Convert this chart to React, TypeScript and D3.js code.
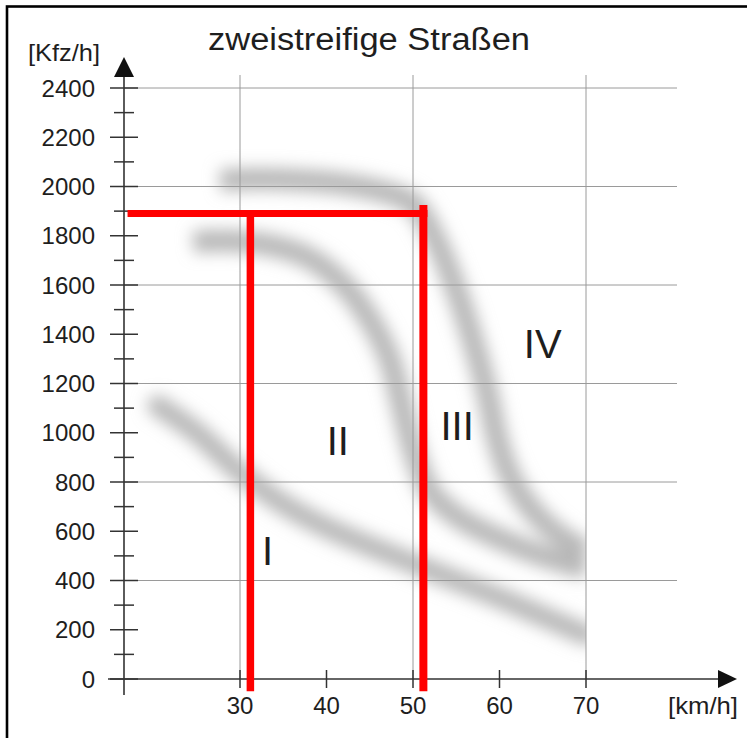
import React from "react";
import * as d3 from "d3";

const TITLE = "zweistreifige Straßen";
const Y_UNIT = "[Kfz/h]";
const X_UNIT = "[km/h]";

const X_TICKS = [30, 40, 50, 60, 70];
const X_GRID = [30, 50, 70];
const Y_TICKS = [0, 200, 400, 600, 800, 1000, 1200, 1400, 1600, 1800, 2000, 2200, 2400];
const Y_MINOR = [100, 300, 500, 700, 900, 1100, 1300, 1500, 1700, 1900, 2100, 2300];
const Y_GRID = [400, 800, 1200, 1600, 2000, 2400];

// boundary bands between quality levels (km/h, Kfz/h)
const BAND_I_II: [number, number][] = [
  [20.5, 1110], [25, 1000], [30, 840], [35, 710], [40, 615], [45, 540],
  [50, 470], [55, 400], [60, 330], [65, 255], [70, 180],
];
const BAND_II_III: [number, number][] = [
  [24.6, 1775], [28, 1780], [33, 1765], [38, 1710], [42, 1600], [45, 1460],
  [47.3, 1300], [48.8, 1100], [50.3, 900], [52, 760], [55.5, 650], [60, 570],
  [65, 500], [70, 450],
];
const BAND_III_IV: [number, number][] = [
  [27.7, 2025], [32, 2030], [37, 2025], [42, 2010], [46.5, 1980], [50, 1930],
  [52.8, 1770], [55.1, 1570], [57, 1365], [58.6, 1160], [59.7, 980], [60.9, 850],
  [62.6, 740], [65, 640], [67.5, 570], [70, 520],
];

const LEVEL_LABELS = ["I", "II", "III", "IV"];
const LEVEL_X = [33.2, 41.3, 55.1, 65];
const LEVEL_Y = [520, 966, 1027, 1360];

// red reading lines
const RED_Q = 1890;
const RED_V1 = 31.2;
const RED_V2 = 51.2;
const RED_START_V = 17;
const RED_BOTTOM_Q = -50;
const RED_V2_TOP_Q = 1925;

export default function App() {
  const W = 747;
  const H = 738;
  const x = d3.scaleLinear().domain([30, 70]).range([240, 586]);
  const y = d3.scaleLinear().domain([0, 2400]).range([679, 88]);
  const axisX = 124;
  const axisY = y(0);

  const line = d3
    .line<[number, number]>()
    .x((d) => x(d[0]))
    .y((d) => y(d[1]))
    .curve(d3.curveCatmullRom.alpha(0.5));

  const font = "'Liberation Sans', Arial, Helvetica, sans-serif";
  const txt = "#1e1e1e";

  return (
    <svg
      width={W}
      height={H}
      style={{ position: "absolute", left: 0, top: 0, background: "#fff" }}
      fontFamily={font}
    >
      <defs>
        <filter id="blur" filterUnits="userSpaceOnUse" x={0} y={0} width={W} height={H}>
          <feGaussianBlur stdDeviation={8} />
        </filter>
        <clipPath id="clipBands">
          <rect x={0} y={0} width={x(70)} height={H} />
        </clipPath>
      </defs>
      <rect x={0} y={0} width={W} height={H} fill="#fff" />

      {/* bands */}
      <g clipPath="url(#clipBands)">
        <g filter="url(#blur)" fill="none" stroke="#b8b8b8">
          <path d={line(BAND_I_II) || ""} strokeWidth={21} strokeLinecap="round" />
          <path d={line(BAND_II_III) || ""} strokeWidth={22} strokeLinecap="butt" />
          <path d={line(BAND_III_IV) || ""} strokeWidth={22} strokeLinecap="butt" />
        </g>
      </g>

      {/* grid */}
      {Y_GRID.map((v) => (
        <line key={"gy" + v} x1={axisX} x2={677} y1={y(v)} y2={y(v)} stroke="#9a9a9a" strokeWidth={1} />
      ))}
      {X_GRID.map((v) => (
        <line key={"gx" + v} x1={x(v)} x2={x(v)} y1={75} y2={axisY} stroke="#9a9a9a" strokeWidth={1} />
      ))}

      {/* axes */}
      <line x1={108} x2={722} y1={axisY} y2={axisY} stroke="#333" strokeWidth={1.6} />
      <line x1={axisX} x2={axisX} y1={695} y2={72} stroke="#333" strokeWidth={1.6} />
      <path d={`M${axisX},57 L${axisX - 10},77 L${axisX + 10},77 Z`} fill="#111" />
      <path d={`M737,${axisY} L718,${axisY - 9} L718,${axisY + 9} Z`} fill="#111" />

      {/* y ticks */}
      {Y_TICKS.map((v) => (
        <g key={"yt" + v}>
          <line x1={axisX - 14} x2={axisX + 14} y1={y(v)} y2={y(v)} stroke="#333" strokeWidth={1.5} />
          <text x={95} y={y(v) + 8.5} textAnchor="end" fontSize={24} fill={txt}>
            {v}
          </text>
        </g>
      ))}
      {Y_MINOR.map((v) => (
        <line key={"ym" + v} x1={axisX - 10} x2={axisX + 10} y1={y(v)} y2={y(v)} stroke="#333" strokeWidth={1.5} />
      ))}

      {/* x ticks */}
      {X_TICKS.map((v) => (
        <g key={"xt" + v}>
          <line x1={x(v)} x2={x(v)} y1={axisY - 9} y2={axisY + 9} stroke="#333" strokeWidth={1.5} />
          <text x={x(v)} y={714} textAnchor="middle" fontSize={24} fill={txt}>
            {v}
          </text>
        </g>
      ))}

      {/* units & title */}
      <text x={28} y={61} fontSize={24} fill={txt} textLength={72} lengthAdjust="spacingAndGlyphs">
        {Y_UNIT}
      </text>
      <text x={668} y={714} fontSize={24} fill={txt} textLength={70} lengthAdjust="spacingAndGlyphs">
        {X_UNIT}
      </text>
      <text x={208} y={50} fontSize={31} fill={txt} textLength={322} lengthAdjust="spacingAndGlyphs">
        {TITLE}
      </text>

      {/* level labels */}
      {LEVEL_LABELS.map((l, i) => (
        <text key={l} x={x(LEVEL_X[i])} y={y(LEVEL_Y[i]) + 14} textAnchor="middle" fontSize={40} fill={txt}>
          {l}
        </text>
      ))}

      {/* red lines */}
      <g stroke="#ff0000" fill="none">
        <line x1={x(RED_START_V)} x2={x(RED_V2) + 4} y1={y(RED_Q)} y2={y(RED_Q)} strokeWidth={7} />
        <line x1={x(RED_V1)} x2={x(RED_V1)} y1={y(RED_Q)} y2={y(RED_BOTTOM_Q)} strokeWidth={7.5} />
        <line x1={x(RED_V2)} x2={x(RED_V2)} y1={y(RED_V2_TOP_Q)} y2={y(RED_BOTTOM_Q)} strokeWidth={8} />
      </g>

      {/* frame */}
      <rect x={7} y={6.5} width={W + 20} height={H + 20} fill="none" stroke="#000" strokeWidth={2.6} />
    </svg>
  );
}
